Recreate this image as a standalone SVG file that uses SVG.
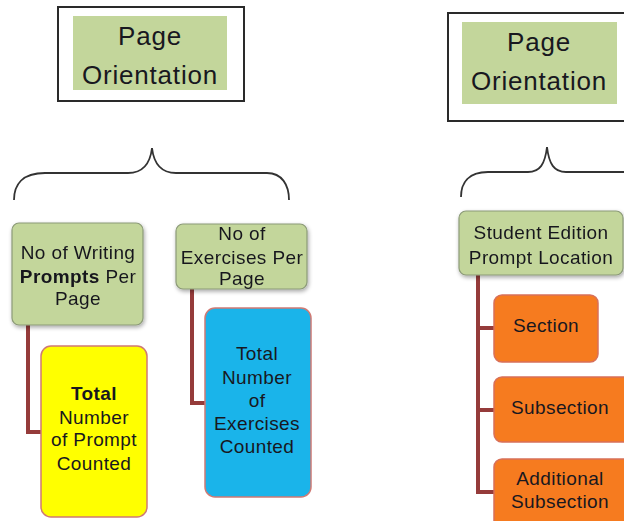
<svg xmlns="http://www.w3.org/2000/svg" width="624" height="521" viewBox="0 0 624 521">
  <defs>
    <filter id="shadow" x="-10%" y="-10%" width="130%" height="140%">
      <feGaussianBlur in="SourceAlpha" stdDeviation="2"/>
      <feOffset dx="1" dy="2" result="b"/>
      <feComponentTransfer><feFuncA type="linear" slope="0.35"/></feComponentTransfer>
      <feMerge><feMergeNode/><feMergeNode in="SourceGraphic"/></feMerge>
    </filter>
    <style>
      text { font-family: "Liberation Sans", Arial, sans-serif; fill: #18181f; text-anchor: middle; }
      .title { font-size: 26px; letter-spacing: 0.8px; }
      .lbl { font-size: 19px; letter-spacing: 0.4px; }
      .frame { fill: #ffffff; stroke: #2a2a2a; stroke-width: 2; }
      .head { fill: #c3d69b; }
      .green { fill: #c3d69b; stroke: #8c9a78; stroke-width: 1.2; }
      .yellow { fill: #ffff00; stroke: #cf7a74; stroke-width: 1.5; }
      .blue { fill: #1ab4ea; stroke: #cf7a74; stroke-width: 1.5; }
      .orange { fill: #f67b1f; stroke: #d8705a; stroke-width: 1.5; }
      .brace { fill: none; stroke: #333333; stroke-width: 1.8; }
      .link { fill: none; stroke: #953b3a; stroke-width: 4; stroke-linejoin: miter; }
      .b { font-weight: bold; }
    </style>
  </defs>

  <!-- headers -->
  <g id="header-left">
    <rect class="frame" x="58" y="7" width="186" height="94"/>
    <rect class="head" x="73" y="16" width="154" height="74"/>
    <text class="title" x="150" y="45">Page</text>
    <text class="title" x="150" y="84">Orientation</text>
  </g>
  <g id="header-right">
    <rect class="frame" x="448" y="13" width="180" height="108"/>
    <rect class="head" x="462" y="22" width="155" height="82"/>
    <text class="title" x="539" y="51">Page</text>
    <text class="title" x="539" y="90">Orientation</text>
  </g>

  <!-- braces -->
  <g id="braces">
    <path class="brace" d="M14,200 C14,185 22,173 45,173 L128,173 C142,173 150,165 152,148 C154,165 162,173 176,173 L267,173 C282,173 289,185 289,200"/>
    <path class="brace" d="M461,197 C461,183 468,172 488,172 L528,172 C540,172 545,164 547,147 C549,164 554,172 566,172 L630,172"/>
  </g>

  <!-- connectors -->
  <g id="connectors">
    <path class="link" d="M28,325 L28,432 L41,432"/>
    <path class="link" d="M192,289 L192,403 L205,403"/>
    <path class="link" d="M478,275 L478,492 L494,492 M478,328 L494,328 M478,410 L494,410"/>
  </g>

  <!-- nodes -->
  <g id="node-writing-prompts" filter="url(#shadow)">
    <rect class="green" x="12" y="223" width="131" height="102" rx="7"/>
    <text class="lbl" x="78" y="259">No of Writing</text>
    <text class="lbl" x="78" y="283"><tspan class="b">Prompts</tspan> Per</text>
    <text class="lbl" x="78" y="305">Page</text>
  </g>
  <g id="node-exercises" filter="url(#shadow)">
    <rect class="green" x="176" y="224" width="131" height="65" rx="7"/>
    <text class="lbl" x="242" y="240">No of</text>
    <text class="lbl" x="242" y="264">Exercises Per</text>
    <text class="lbl" x="242" y="285">Page</text>
  </g>
  <g id="node-total-prompt">
    <rect class="yellow" x="41" y="346" width="106" height="171" rx="10"/>
    <text class="lbl b" x="94" y="400">Total</text>
    <text class="lbl" x="94" y="424">Number</text>
    <text class="lbl" x="94" y="446">of Prompt</text>
    <text class="lbl" x="94" y="470">Counted</text>
  </g>
  <g id="node-total-exercises">
    <rect class="blue" x="205" y="308" width="106" height="189" rx="10"/>
    <text class="lbl" x="257" y="360">Total</text>
    <text class="lbl" x="257" y="384">Number</text>
    <text class="lbl" x="257" y="407">of</text>
    <text class="lbl" x="257" y="430">Exercises</text>
    <text class="lbl" x="257" y="453">Counted</text>
  </g>
  <g id="node-prompt-location" filter="url(#shadow)">
    <rect class="green" x="459" y="211" width="164" height="64" rx="7"/>
    <text class="lbl" x="541" y="239">Student Edition</text>
    <text class="lbl" x="541" y="264">Prompt Location</text>
  </g>
  <g id="node-section">
    <rect class="orange" x="494" y="295" width="104" height="67" rx="8"/>
    <text class="lbl" x="546" y="332">Section</text>
  </g>
  <g id="node-subsection">
    <rect class="orange" x="494" y="377" width="140" height="65" rx="8"/>
    <text class="lbl" x="560" y="414">Subsection</text>
  </g>
  <g id="node-additional-subsection">
    <rect class="orange" x="494" y="459" width="140" height="80" rx="8"/>
    <text class="lbl" x="560" y="485">Additional</text>
    <text class="lbl" x="560" y="508">Subsection</text>
  </g>
</svg>
